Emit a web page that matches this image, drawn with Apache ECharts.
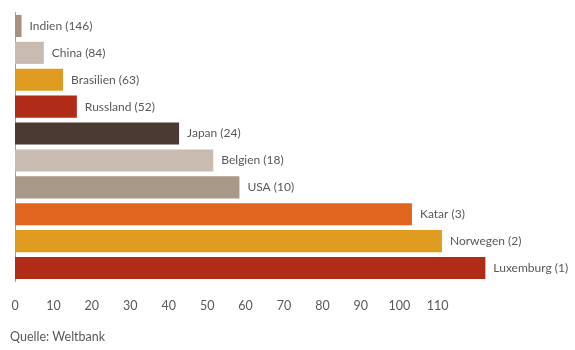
<!DOCTYPE html>
<html>
<head>
<meta charset="utf-8">
<script src="https://cdn.jsdelivr.net/npm/echarts@6/dist/echarts.min.js"></script>
<style>html,body{margin:0;padding:0;background:#fff;}#c{width:575px;height:350px;}</style>
</head>
<body>
<div id="c"></div>
<script>
var countries = ["Indien", "China", "Brasilien", "Russland", "Japan", "Belgien", "USA", "Katar", "Norwegen", "Luxemburg"];
var ranks = [146, 84, 63, 52, 24, 18, 10, 3, 2, 1];
var values = [1.7, 7.5, 12.5, 16.1, 42.7, 51.6, 58.4, 103.3, 111.1, 122.4];
var colors = ["#a8907f", "#c8bbb1", "#e09c20", "#b02c16", "#4a3a33", "#c8bbb1", "#a89888", "#e0651f", "#e09c20", "#b02c16"];
var xTicks = [0, 10, 20, 30, 40, 50, 60, 70, 80, 90, 100, 110];
var source = "Quelle: Weltbank";

var chart = echarts.init(document.getElementById('c'));
var font = "Lato, 'Open Sans', sans-serif";
chart.setOption({
  animation: false,
  textStyle: {fontFamily: font},
  grid: {left: 15, top: 12.5, width: 538, height: 269, containLabel: false},
  xAxis: {
    type: 'value', min: 0, max: 140, interval: 10,
    axisLine: {show: false}, axisTick: {show: false}, splitLine: {show: false},
    axisLabel: {
      color: '#595959', fontSize: 12.5, fontFamily: font, margin: 18,
      formatter: function (v) { return xTicks.indexOf(v) >= 0 ? String(v) : ''; }
    }
  },
  yAxis: {
    type: 'category', inverse: true, data: countries,
    axisLine: {show: true, lineStyle: {color: '#a0a0a0', width: 1}},
    axisTick: {show: false}, axisLabel: {show: false}
  },
  graphic: [{
    type: 'text', left: 10, top: 330,
    style: {text: source, fill: '#595959', font: '12.5px ' + font}
  }],
  series: [{
    type: 'bar',
    barCategoryGap: '18%',
    data: values.map(function (v, i) { return {value: v, itemStyle: {color: colors[i]}}; }),
    label: {
      show: true, position: 'right', distance: 8,
      color: '#595959', fontSize: 12, fontFamily: font,
      formatter: function (p) { return countries[p.dataIndex] + ' (' + ranks[p.dataIndex] + ')'; }
    }
  }]
});
</script>
</body>
</html>
